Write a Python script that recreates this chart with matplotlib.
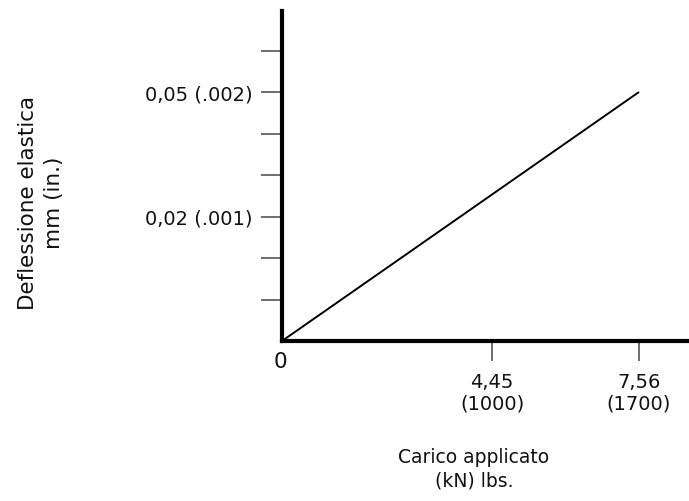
import matplotlib.pyplot as plt

# load (lbs) vs deflection (in tick units)
load_lbs = [0, 1700]
deflection = [0, 6]

x_ticks = [1000, 1700]
x_tick_labels = ["4,45\n(1000)", "7,56\n(1700)"]
y_ticks = [1, 2, 3, 4, 5, 6, 7]
y_tick_labels = ["", "", "0,02 (.001)", "", "", "0,05 (.002)", ""]

plt.rcParams["font.family"] = ["DejaVu Sans"]

W, H = 689, 502
fig = plt.figure(figsize=(W / 100, H / 100), dpi=100)
ax = fig.add_axes([282 / W, 160 / H, 407 / W, 330 / H])

ax.plot(load_lbs, deflection, color="black", lw=1.4, solid_capstyle="butt")

ax.set_xlim(0, 407 / 0.21)
ax.set_ylim(0, 330 / 41.5)

for side in ("top", "right"):
    ax.spines[side].set_visible(False)
for side in ("left", "bottom"):
    ax.spines[side].set_linewidth(3)
    ax.spines[side].set_color("black")

ax.set_xticks(x_ticks)
ax.set_xticklabels(x_tick_labels, fontsize=14, color="#111111", linespacing=1.15)
ax.set_yticks(y_ticks)
ax.set_yticklabels(y_tick_labels, fontsize=14, color="#111111")
ax.tick_params(axis="x", direction="out", length=14.5, width=1.2, color="#555555", pad=8)
ax.tick_params(axis="y", direction="out", length=15, width=1.2, color="#555555", pad=6.5)

fig.text(280 / W, 1 - 362 / H, "0", fontsize=15.5, ha="center", va="center", color="#111111")

fig.text(474 / W, 1 - 469 / H, "Carico applicato\n(kN) lbs.", fontsize=13.5,
         ha="center", va="center", linespacing=1.3, color="#111111")
fig.text(41 / W, 1 - 203 / H, "Deflessione elastica\nmm (in.)", fontsize=15.5,
         ha="center", va="center", rotation=90, linespacing=1.35, color="#111111")

fig.savefig("out.png", dpi=100)
